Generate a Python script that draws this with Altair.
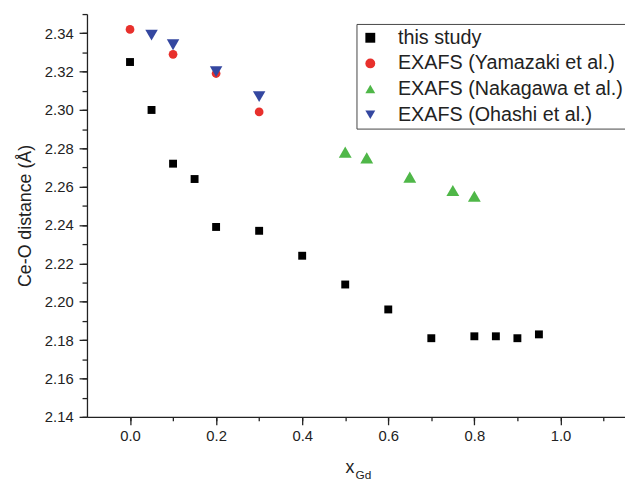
import altair as alt
import pandas as pd

# this study
x_study = [0.0, 0.05, 0.1, 0.15, 0.2, 0.3, 0.4, 0.5, 0.6, 0.7, 0.8, 0.85, 0.9, 0.95]
y_study = [2.325, 2.300, 2.272, 2.264, 2.239, 2.237, 2.224, 2.209, 2.196, 2.181, 2.182, 2.182, 2.181, 2.183]
# EXAFS Yamazaki
x_yam = [0.0, 0.1, 0.2, 0.3]
y_yam = [2.342, 2.329, 2.319, 2.299]
# EXAFS Nakagawa
x_nak = [0.5, 0.55, 0.65, 0.75, 0.8]
y_nak = [2.278, 2.275, 2.265, 2.258, 2.255]
# EXAFS Ohashi
x_oha = [0.05, 0.1, 0.2, 0.3]
y_oha = [2.339, 2.334, 2.320, 2.307]

series = ["this study", "EXAFS (Yamazaki et al.)", "EXAFS (Nakagawa et al.)", "EXAFS (Ohashi et al.)"]
colors = ["#000000", "#e8302c", "#4fb748", "#3447a0"]
shapes = ["square", "circle", "triangle-up", "triangle-down"]
sizes = [64, 78, 170, 160]

x_major = [0.0, 0.2, 0.4, 0.6, 0.8, 1.0]
x_minor = [round(i * 0.1, 1) for i in range(0, 12)]
y_major = [round(2.14 + i * 0.02, 2) for i in range(0, 11)]
y_minor = [round(2.14 + i * 0.01, 2) for i in range(0, 22)]

rows = []
for xs, ys, name in [(x_study, y_study, series[0]), (x_yam, y_yam, series[1]),
                     (x_nak, y_nak, series[2]), (x_oha, y_oha, series[3])]:
    for a, b in zip(xs, ys):
        rows.append({"x": a, "y": b, "series": name})
df = pd.DataFrame(rows)

FONT = "Liberation Sans"
INK = "#222222"
xscale = alt.Scale(domain=[-0.1, 1.15], nice=False, zero=False)
yscale = alt.Scale(domain=[2.14, 2.35], nice=False, zero=False)

legend = alt.Legend(title=None, orient="none", legendX=273, legendY=10,
                    strokeColor="#444444", padding=4, symbolSize=100,
                    labelFontSize=20, labelFont=FONT, labelColor=INK,
                    rowPadding=6, labelOffset=18, labelLimit=400)

# axis-carrying invisible layers
major = alt.Chart(df).mark_point(opacity=0).encode(
    x=alt.X("x:Q", scale=xscale,
            axis=alt.Axis(title=None, values=x_major, format=".1f", orient="bottom",
                          grid=False, tickSize=8, labelPadding=4)),
    y=alt.Y("y:Q", scale=yscale,
            axis=alt.Axis(title="Ce-O distance (Å)", values=y_major, format=".2f", orient="left",
                          grid=False, tickSize=8, labelPadding=6, titlePadding=10)),
)
minor = alt.Chart(df).mark_point(opacity=0).encode(
    x=alt.X("x:Q", scale=xscale,
            axis=alt.Axis(title=None, values=x_minor, labels=False, domain=False,
                          orient="bottom", grid=False, tickSize=4)),
    y=alt.Y("y:Q", scale=yscale,
            axis=alt.Axis(title=None, values=y_minor, labels=False, domain=False,
                          orient="left", grid=False, tickSize=5)),
)

series_layers = []
for name, sz in zip(series, sizes):
    series_layers.append(
        alt.Chart(df).transform_filter(alt.datum.series == name)
        .mark_point(filled=True, opacity=1, size=sz).encode(
            x=alt.X("x:Q", scale=xscale, axis=None),
            y=alt.Y("y:Q", scale=yscale, axis=None),
            color=alt.Color("series:N", scale=alt.Scale(domain=series, range=colors), legend=legend),
            shape=alt.Shape("series:N", scale=alt.Scale(domain=series, range=shapes), legend=legend),
        )
    )

t1 = alt.Chart(pd.DataFrame({"t": ["x"]})).mark_text(
    font=FONT, fontSize=18, align="left", baseline="alphabetic", color=INK
).encode(text="t:N", x=alt.value(262), y=alt.value(465))
t2 = alt.Chart(pd.DataFrame({"t": ["Gd"]})).mark_text(
    font=FONT, fontSize=12, align="left", baseline="alphabetic", color=INK
).encode(text="t:N", x=alt.value(272), y=alt.value(471))

chart = alt.layer(major, minor, *series_layers, t1, t2).resolve_axis(
    x="independent", y="independent"
).properties(
    width=545, height=408,
    autosize=alt.AutoSizeParams(type="none"),
    padding={"left": 80, "top": 3, "right": 0, "bottom": 75},
).configure_view(stroke=None).configure_axis(
    domainColor=INK, tickColor=INK, labelColor=INK,
    titleColor=INK, labelFont=FONT, titleFont=FONT, labelFontSize=15,
    titleFontSize=18, titleFontWeight="normal", domainWidth=1.3, tickWidth=1.3
)

chart.save("out.html", embed_options={"renderer": "svg", "actions": False})
